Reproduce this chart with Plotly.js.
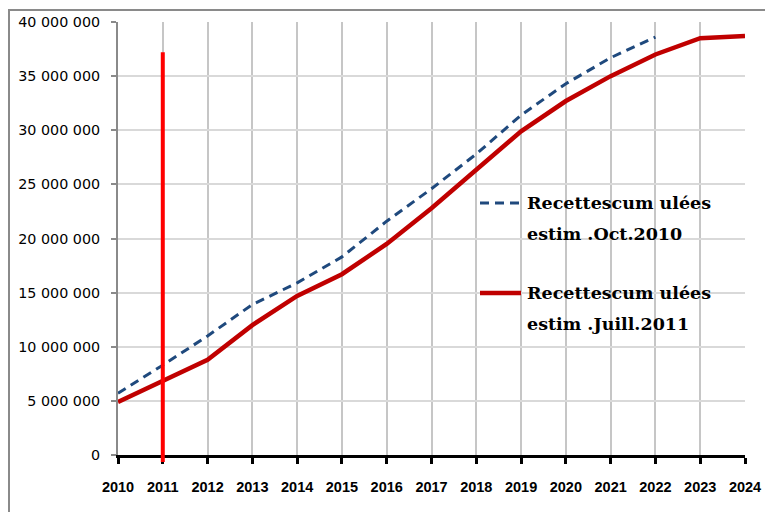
<!DOCTYPE html>
<html>
<head>
<meta charset="utf-8">
<script src="https://cdn.plot.ly/plotly-3.0.1.min.js"></script>
<style>
  html, body { margin: 0; padding: 0; background: #ffffff; }
  #chart { width: 765px; height: 512px; }
</style>
</head>
<body>
<div id="chart"></div>
<script>
// Years on the horizontal axis
const years = [2010, 2011, 2012, 2013, 2014, 2015, 2016, 2017, 2018, 2019, 2020, 2021, 2022, 2023, 2024];

// Cumulative receipts, estimate of October 2010 (runs to 2022)
const yearsOct2010 = [2010, 2011, 2012, 2013, 2014, 2015, 2016, 2017, 2018, 2019, 2020, 2021, 2022];
const recettesOct2010 = [5700000, 8300000, 11000000, 13900000, 15900000, 18300000, 21600000, 24600000, 27800000, 31400000, 34300000, 36700000, 38600000];

// Cumulative receipts, estimate of July 2011 (runs to 2024)
const recettesJuill2011 = [4900000, 6800000, 8800000, 12000000, 14700000, 16700000, 19500000, 22800000, 26300000, 29900000, 32700000, 35000000, 37000000, 38500000, 38700000];

// Legend labels (two lines each)
const legendOct2010 = ["Recettescum ulées", "estim .Oct.2010"];
const legendJuill2011 = ["Recettescum ulées", "estim .Juill.2011"];

// Marker for the current year
const currentYear = 2011;
const currentYearTop = 37200000;

const yMax = 40000000;
const yTicks = [0, 5000000, 10000000, 15000000, 20000000, 25000000, 30000000, 35000000, 40000000];

const BLUE = '#1f497d';
const DARKRED = '#c00000';
const RED = '#ff0000';

const traces = [
  {
    x: yearsOct2010, y: recettesOct2010, type: 'scatter', mode: 'lines',
    name: legendOct2010.join(' '),
    line: { color: BLUE, width: 3, dash: '9px,6px' },
    showlegend: false, hoverinfo: 'skip'
  },
  {
    x: years, y: recettesJuill2011, type: 'scatter', mode: 'lines',
    name: legendJuill2011.join(' '),
    line: { color: DARKRED, width: 4.5 },
    showlegend: false, hoverinfo: 'skip'
  }
];

// plot area geometry helpers (paper units)
const plotW = 627, plotH = 433;
const px = v => v / plotW;
const py = v => v / plotH;

const legendFont = { family: 'DejaVu Serif, serif', size: 17.5, color: '#000000', weight: 'bold' };
const legX0 = px(480 - 118), legX1 = px(521 - 118), legTextX = px(525 - 118);
const leg1Y = py(455 - 203), leg2Y = py(455 - 293), lineGap = py(31);

function legendLines(lines, y) {
  return lines.map((t, i) => ({
    xref: 'paper', yref: 'paper', x: legTextX, y: y - i * lineGap,
    xanchor: 'left', yanchor: 'middle', showarrow: false,
    text: t, font: legendFont
  }));
}

const layout = {
  width: 765, height: 512,
  margin: { l: 118, r: 20, t: 22, b: 57, pad: 0 },
  paper_bgcolor: '#ffffff', plot_bgcolor: '#ffffff',
  separators: ', ',
  showlegend: false,
  xaxis: {
    range: [2010, 2024], tickmode: 'linear', tick0: 2010, dtick: 1,
    showgrid: true, gridcolor: '#c6c6c6', gridwidth: 2,
    zeroline: false,
    showline: true, linecolor: '#000000', linewidth: 3,
    ticks: 'outside', ticklen: 6, tickwidth: 3, tickcolor: '#000000',
    ticklabelstandoff: 11,
    tickfont: { family: 'Liberation Sans, Arial, sans-serif', size: 14.5, color: '#000000', weight: 'bold' },
    fixedrange: true
  },
  yaxis: {
    range: [0, yMax], tickmode: 'array', tickvals: yTicks, tickformat: ',d',
    showgrid: true, gridcolor: '#d9d9d9', gridwidth: 2,
    zeroline: false,
    showline: true, linecolor: '#8a8a8a', linewidth: 2,
    ticks: 'outside', ticklen: 5, tickwidth: 2, tickcolor: '#8a8a8a',
    ticklabelstandoff: 8,
    tickfont: { family: 'DejaVu Sans, Verdana, sans-serif', size: 14.3, color: '#000000' },
    fixedrange: true
  },
  shapes: [
    // outer chart frame
    { type: 'rect', xref: 'paper', yref: 'paper',
      x0: px(9 - 118), x1: px(800 - 118), y0: py(455 - 560), y1: py(455 - 10),
      line: { color: '#8a8a8a', width: 2 }, fillcolor: 'rgba(0,0,0,0)', layer: 'below' },
    // current-year marker
    { type: 'line', xref: 'x', yref: 'paper',
      x0: currentYear, x1: currentYear, y0: py(-7), y1: currentYearTop / yMax,
      line: { color: RED, width: 4 }, layer: 'above' },
    // legend samples
    { type: 'line', xref: 'paper', yref: 'paper', x0: legX0, x1: legX1, y0: leg1Y, y1: leg1Y,
      line: { color: BLUE, width: 3, dash: '9px,6px' } },
    { type: 'line', xref: 'paper', yref: 'paper', x0: legX0, x1: legX1, y0: leg2Y, y1: leg2Y,
      line: { color: DARKRED, width: 4.5 } }
  ],
  annotations: legendLines(legendOct2010, leg1Y).concat(legendLines(legendJuill2011, leg2Y))
};

Plotly.newPlot('chart', traces, layout, { staticPlot: true, displayModeBar: false });
</script>
</body>
</html>
